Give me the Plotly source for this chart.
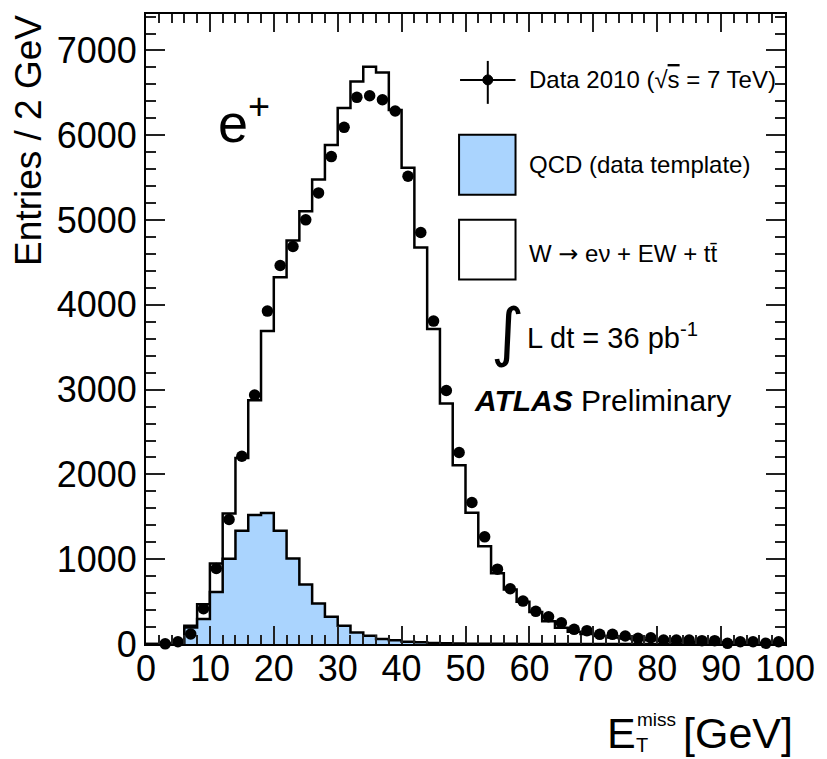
import numpy as np
import plotly.graph_objects as go

# ---------------- data (50 bins of 2 GeV, 0-100 GeV) ----------------
bin_edges = list(range(0, 102, 2))
bin_centers = [e + 1 for e in bin_edges[:-1]]

# QCD (data template)
qcd = [0, 0, 0, 196, 294, 612, 1005, 1335, 1520, 1545,
       1335, 1009, 703, 479, 322, 214, 135, 98, 59, 44,
       27, 20, 12, 8, 6, 4, 3, 2, 2, 1,
       1, 1, 1, 1, 0, 0, 0, 0, 0, 0,
       0, 0, 0, 0, 0, 0, 0, 0, 0, 0]

# W -> e nu + EW + ttbar (stacked on top of QCD)
w_ew_tt = [0, 0, 10, 19, 176, 338, 534, 860, 1354, 2145,
           2991, 3750, 4401, 4998, 5564, 6107, 6500, 6710, 6682, 6253,
           5591, 4656, 3702, 2827, 2102, 1543, 1151, 831, 642, 497,
           376, 266, 191, 144, 118, 95, 78, 64, 53, 45,
           38, 32, 27, 23, 20, 17, 15, 13, 11, 10]

# Data 2010
data = [None, 2, 27, 118, 416, 891, 1468, 2214, 2937, 3926,
        4464, 4688, 5002, 5320, 5748, 6093, 6447, 6466, 6419, 6286,
        5516, 4853, 3808, 2990, 2258, 1669, 1264, 883, 651, 506,
        385, 322, 251, 173, 157, 114, 114, 94, 67, 74,
        47, 47, 47, 39, 39, 8, 27, 27, 8, 27]

x_ticks = list(range(0, 101, 10))
y_ticks = list(range(0, 7001, 1000))

# ---------------- layout geometry ----------------
W, H = 827, 759
L, R, T, B = 146, 36, 13, 115
PW, PH = W - L - R, H - T - B


def px(x):
    return (x - L) / PW


def py(y):
    return (H - B - y) / PH


FONT = "Liberation Sans, Arial, Helvetica, sans-serif"

total = [q + w for q, w in zip(qcd, w_ew_tt)]
step_total = total + [total[-1]]
step_qcd = qcd + [qcd[-1]]

fig = go.Figure()
fig.add_trace(go.Scatter(x=bin_edges, y=step_total, mode="lines", line_shape="hv",
                         line=dict(color="black", width=2.5), fill="tozeroy",
                         fillcolor="white", hoverinfo="skip", showlegend=False))
fig.add_trace(go.Scatter(x=bin_edges, y=step_qcd, mode="lines", line_shape="hv",
                         line=dict(color="black", width=2.5), fill="tozeroy",
                         fillcolor="#aad4fe", hoverinfo="skip", showlegend=False))
fig.add_trace(go.Scatter(x=bin_centers, y=data, mode="markers",
                         marker=dict(color="black", size=11.5, symbol="circle"),
                         cliponaxis=False, showlegend=False))

axis_common = dict(showline=True, linecolor="black", linewidth=2, mirror="allticks",
                   ticks="inside", tickcolor="#222", tickwidth=1.5, showgrid=False,
                   zeroline=False, tickfont=dict(family=FONT, size=36, color="black"))

fig.update_xaxes(range=[0, 100], tickvals=x_ticks, ticklen=18, ticklabelstandoff=-8,
                 minor=dict(ticks="inside", dtick=2, ticklen=9, tickcolor="#222", tickwidth=1.5),
                 **axis_common)
fig.update_yaxes(range=[0, 7430], tickvals=y_ticks, ticklen=19,
                 minor=dict(ticks="inside", dtick=200, ticklen=10, tickcolor="#222", tickwidth=1.5),
                 **axis_common)

shapes = []
ann = []

# legend: data cross
shapes.append(dict(type="line", xref="paper", yref="paper", x0=px(463), x1=px(519), y0=py(79), y1=py(79),
                   line=dict(color="black", width=2)))
shapes.append(dict(type="line", xref="paper", yref="paper", x0=px(491), x1=px(491), y0=py(60), y1=py(103),
                   line=dict(color="black", width=2)))
shapes.append(dict(type="circle", xref="paper", yref="paper", x0=px(486), x1=px(496), y0=py(84), y1=py(74),
                   fillcolor="black", line=dict(color="black", width=1)))
# legend: QCD box
shapes.append(dict(type="rect", xref="paper", yref="paper", x0=px(462), x1=px(519), y0=py(194), y1=py(134),
                   fillcolor="#aad4fe", line=dict(color="black", width=2)))
# legend: W box
shapes.append(dict(type="rect", xref="paper", yref="paper", x0=px(462), x1=px(519), y0=py(279), y1=py(219),
                   fillcolor="white", line=dict(color="black", width=2)))


def text(x, y, s, size, xanchor="left", yanchor="middle", family=FONT, angle=0):
    ann.append(dict(x=px(x), y=py(y), xref="paper", yref="paper", text=s, showarrow=False,
                    xanchor=xanchor, yanchor=yanchor, textangle=angle, borderpad=0,
                    font=dict(family=family, size=size, color="black")))


text(532, 79, "Data 2010 (√<span style='text-decoration:overline'>s</span> = 7 TeV)", 24)
text(532, 164, "QCD (data template)", 24)
text(532, 253, "W <span style='font-family:DejaVu Sans'>→</span> eν + EW + tt\u0304", 24)
text(511, 332, "∫", 64, xanchor="center", family="DejaVu Sans")
text(530, 336, "L dt = 36 pb<sup>-1</sup>", 29)
text(476, 400, "<b><i>ATLAS</i></b> Preliminary", 30)
text(218, 118, "e<sup>+</sup>", 54)

# axis titles
text(28, 140, "Entries / 2 GeV", 37, xanchor="center", angle=-90)
text(610, 733, "E", 43)
text(641, 720, "miss", 19)
text(640, 745, "T", 20)
text(800, 733, "[GeV]", 43, xanchor="right")

fig.update_layout(width=W, height=H, margin=dict(l=L, r=R, t=T, b=B),
                  paper_bgcolor="white", plot_bgcolor="white",
                  shapes=shapes, annotations=ann, showlegend=False)

fig.write_html("out.html", config={"displayModeBar": False})
